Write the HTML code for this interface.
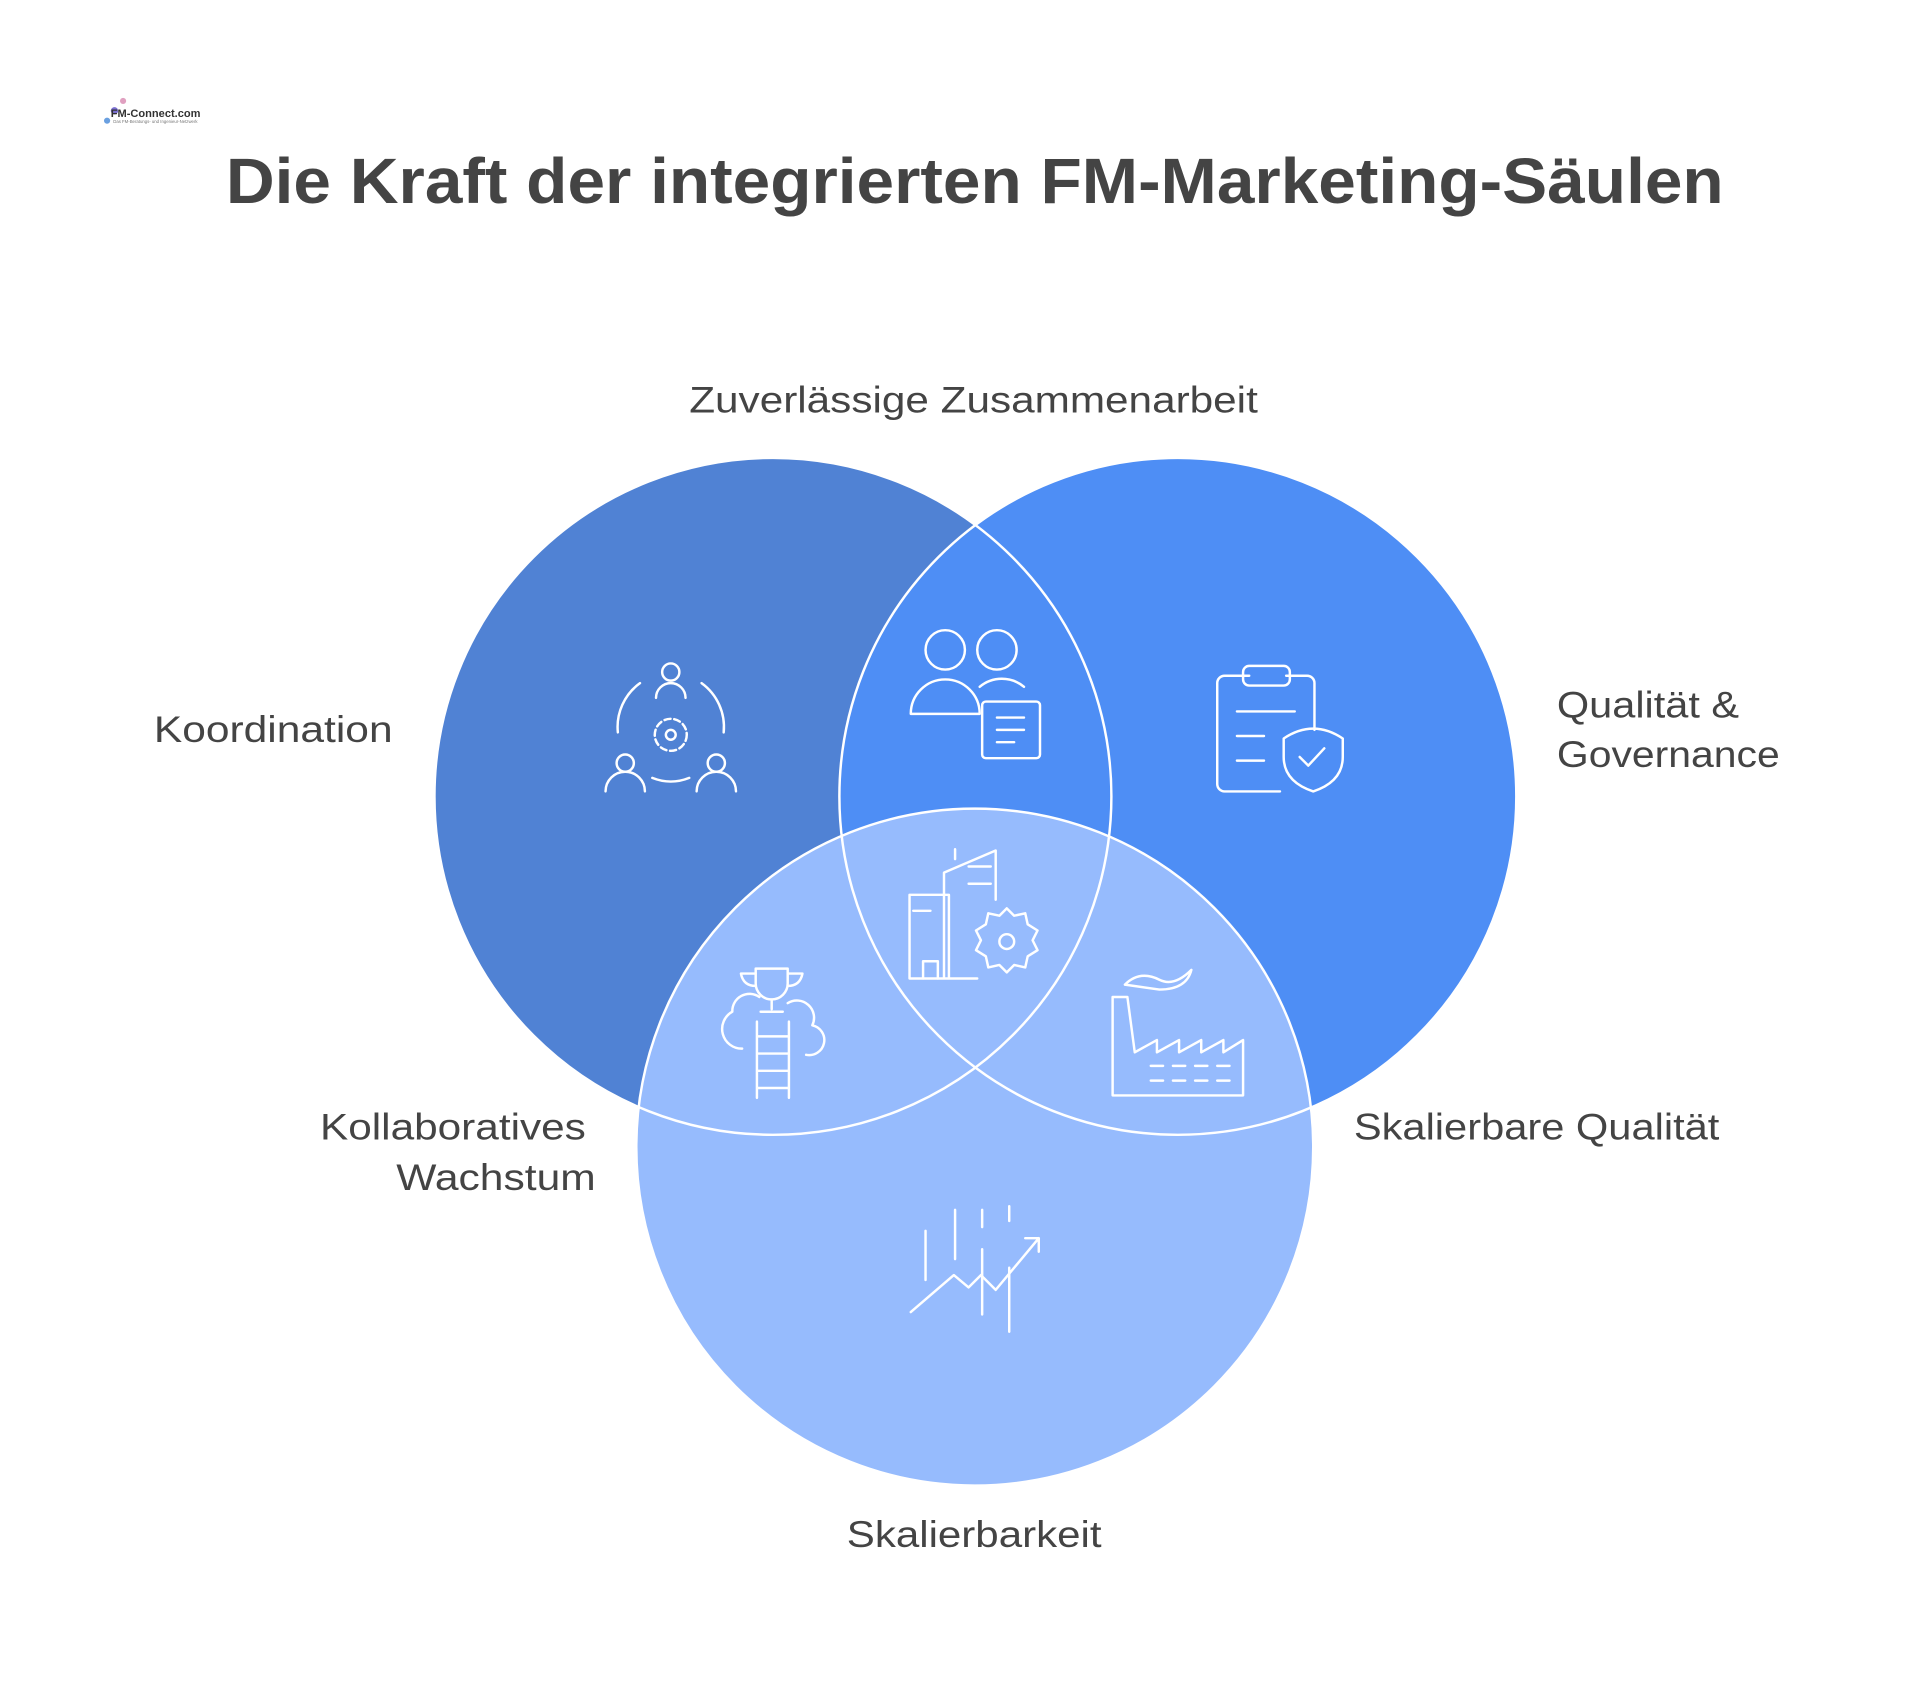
<!DOCTYPE html>
<html><head><meta charset="utf-8"><style>
html,body{margin:0;padding:0;background:#fff;}
svg{display:block;}
text{font-family:"Liberation Sans",sans-serif;fill:#444;}
</style></head><body>
<svg width="1920" height="1701" viewBox="0 0 1560 1382" xmlns="http://www.w3.org/2000/svg">
<rect width="1560" height="1382" fill="#fff"/>
<!-- logo -->
<g>
<circle cx="93" cy="90" r="3" fill="#7a6fd0"/><circle cx="100" cy="82" r="2.5" fill="#e0a0c0"/><circle cx="87" cy="98" r="2.5" fill="#6aa0e0"/>
<text x="90" y="95" font-size="9" font-weight="bold" fill="#333" style="fill:#333">FM-Connect.com</text>
<text x="92" y="100" font-size="3.5" style="fill:#777">Das FM-Beratungs- und Ingenieur-Netzwerk</text>
</g>
<text x="792" y="165" font-size="52" font-weight="bold" text-anchor="middle" textLength="1217" lengthAdjust="spacingAndGlyphs" style="fill:#444">Die Kraft der integrierten FM-Marketing-Säulen</text>

<circle cx="628" cy="647" r="275" fill="#5082D4"/>
<circle cx="957" cy="647" r="275" fill="#4E8EF5"/>
<circle cx="792" cy="932" r="275" fill="#96BBFD"/>
<g fill="none" stroke="#fff" stroke-width="2">
<circle cx="628" cy="647" r="275"/>
<circle cx="957" cy="647" r="275"/>
<circle cx="792" cy="932" r="275"/>
</g>

<g font-size="30">
<text x="560" y="335" textLength="462" lengthAdjust="spacingAndGlyphs">Zuverlässige Zusammenarbeit</text>
<text x="125" y="603" textLength="194" lengthAdjust="spacingAndGlyphs">Koordination</text>
<text x="1265" y="583" textLength="148" lengthAdjust="spacingAndGlyphs">Qualität &amp;</text>
<text x="1265" y="623" textLength="181" lengthAdjust="spacingAndGlyphs">Governance</text>
<text x="260" y="926" textLength="216" lengthAdjust="spacingAndGlyphs">Kollaboratives</text>
<text x="322" y="967" textLength="162" lengthAdjust="spacingAndGlyphs">Wachstum</text>
<text x="1100" y="926" textLength="297" lengthAdjust="spacingAndGlyphs">Skalierbare Qualität</text>
<text x="688" y="1257" textLength="207" lengthAdjust="spacingAndGlyphs">Skalierbarkeit</text>
</g>

<g fill="none" stroke="#fff" stroke-width="2" stroke-linecap="round" stroke-linejoin="round">
<!-- Koordination -->
<circle cx="545" cy="546" r="7"/><path d="M533 567a12 12 0 0 1 24 0"/>
<circle cx="508" cy="620" r="7"/><path d="M492 643a16 16 0 0 1 32 0"/>
<circle cx="582" cy="620" r="7"/><path d="M566 643a16 16 0 0 1 32 0"/>
<path d="M520 555a44 44 0 0 0 -18 40"/><path d="M570 555a44 44 0 0 1 18 40"/><path d="M530 632q15 6 30 0"/>
<circle cx="545" cy="597" r="4"/><circle cx="545" cy="597" r="13" stroke-dasharray="5 3"/>
<!-- people + doc -->
<circle cx="768" cy="528" r="16"/><circle cx="810" cy="528" r="16"/>
<path d="M740 580a28 28 0 0 1 56 0z"/><path d="M796 558a28 28 0 0 1 36 0"/>
<rect x="798" y="570" width="47" height="46" rx="3"/><path d="M810 583h22M810 593h22M810 603h14"/>
<!-- clipboard shield -->
<path d="M1015 549h-20a6 6 0 0 0 -6 6v82a6 6 0 0 0 6 6h45"/><path d="M1045 549h17a6 6 0 0 1 6 6v38"/>
<rect x="1010" y="541" width="38" height="16" rx="5"/>
<path d="M1005 578h47M1005 598h22M1005 618h22"/>
<path d="M1043 600q12 -8 24 -8q12 0 24 8v15q0 20 -24 28q-24 -8 -24 -28z"/><path d="M1056 615l7 7l13 -14"/>
<!-- buildings gear -->
<path d="M739 795v-68h32v68M739 795h55M767 795v-86l42 -18v40"/><path d="M742 740h14M787 704h18M787 718h18"/><path d="M750 795v-14h12v14"/><path d="M776 690v8"/>
<circle cx="818" cy="765" r="6"/><path d="M818 738l6 6l9 -2l2 9l8 5l-4 8l4 8l-8 5l-2 9l-9 -2l-6 6l-6 -6l-9 2l-2 -9l-8 -5l4 -8l-4 -8l8 -5l2 -9l9 2z"/>
<!-- trophy ladder -->
<path d="M614 787h26v12a13 13 0 0 1 -26 0z"/><path d="M614 791h-12q2 10 12 10M640 791h12q-2 10 -12 10"/><path d="M627 812v8M618 822h18"/>
<path d="M615 830v62M641 830v62M615 842h26M615 856h26M615 870h26M615 884h26"/>
<path d="M603 852a16 16 0 0 1 -8 -30a14 14 0 0 1 22 -12"/><path d="M655 857a12 12 0 0 0 5 -24a14 14 0 0 0 -20 -18"/>
<!-- factory -->
<path d="M904 890v-80h12l6 45l18 -10v10l18 -10v10l18 -10v10l18 -10v10l16 -10v45z"/>
<path d="M935 866h10M953 866h10M971 866h10M989 866h10M935 878h10M953 878h10M971 878h10M989 878h10"/>
<path d="M914 800q12 -12 28 -4q12 6 26 -8q-4 16 -26 16q-14 -2 -28 -4"/>
<!-- chart -->
<path d="M752 1000v40M776 983v40M798 983v14M798 1015v53M820 980v12M820 1030v52"/>
<path d="M740 1066l35 -30l12 10l10 -10l12 12l35 -42M833 1006h11v11"/>
</g>
</svg>
</body></html>
